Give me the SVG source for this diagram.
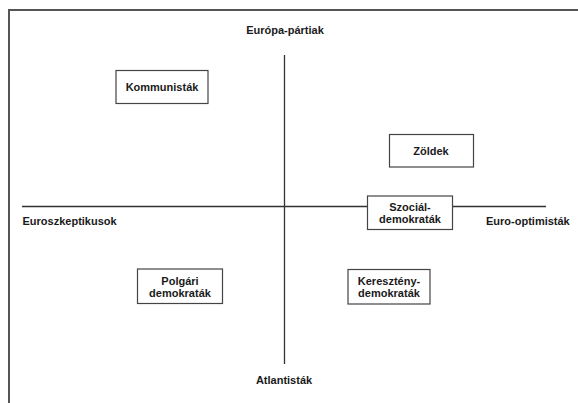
<svg xmlns="http://www.w3.org/2000/svg" width="578" height="403" viewBox="0 0 578 403">
<style>
text{font-family:"Liberation Sans",Arial,sans-serif;font-size:11px;font-weight:bold;fill:#1a1a1a}
.c{text-anchor:middle}
.box{fill:#fff;stroke:#444;stroke-width:1.2}
.ax{stroke:#333;stroke-width:1.3;fill:none}
.frame{stroke:#555;stroke-width:2;fill:none}
</style>
<rect width="578" height="403" fill="#fff"/>
<path class="frame" d="M9,403 V10 H578"/>
<g id="connectors">
<line class="ax" x1="284.5" y1="55" x2="284.5" y2="364"/>
<line class="ax" x1="22" y1="206.5" x2="546" y2="206.5"/>
</g>
<g id="axis-labels">
<text class="c" x="285" y="34">Európa-pártiak</text>
<text class="c" x="284" y="384">Atlantisták</text>
<text x="22.5" y="225">Euroszkeptikusok</text>
<text x="486" y="225">Euro-optimisták</text>
</g>
<g id="kommunistak">
<rect class="box" x="116" y="70.5" width="92" height="33"/>
<text class="c" x="162" y="91">Kommunisták</text>
</g>
<g id="zoldek">
<rect class="box" x="389.5" y="134.5" width="84" height="32.5"/>
<text class="c" x="431" y="155">Zöldek</text>
</g>
<g id="szocialdemokratak">
<rect class="box" x="367.5" y="196" width="85" height="33.5"/>
<text class="c" x="410" y="211">Szociál-</text>
<text class="c" x="410" y="223">demokraták</text>
</g>
<g id="polgari">
<rect class="box" x="137.5" y="269" width="85" height="34.5"/>
<text class="c" x="180" y="284.5">Polgári</text>
<text class="c" x="180" y="296.5">demokraták</text>
</g>
<g id="kereszteny">
<rect class="box" x="348" y="269.5" width="82" height="34.5"/>
<text class="c" x="389" y="284.5">Keresztény-</text>
<text class="c" x="389" y="296.5">demokraták</text>
</g>
</svg>
